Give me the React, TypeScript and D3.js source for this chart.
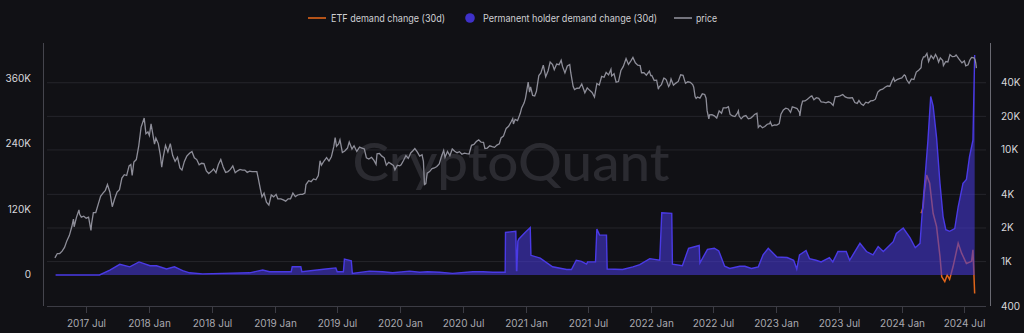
import React from "react";
import * as d3 from "d3";

const W = 1024;
const H = 333;

const xTickDates = [
  "2017-07-01","2018-01-01","2018-07-01","2019-01-01","2019-07-01","2020-01-01","2020-07-01",
  "2021-01-01","2021-07-01","2022-01-01","2022-07-01","2023-01-01","2023-07-01","2024-01-01","2024-07-01",
];
const leftTicks = [0, 120000, 240000, 360000];
const rightTicks = [400, 1000, 2000, 4000, 10000, 20000, 40000];

const priceData: [string, number][] = [
  ["2017-04-01",1080],["2017-04-08",1180],["2017-04-15",1180],["2017-04-22",1240],["2017-04-29",1340],
  ["2017-05-06",1540],["2017-05-13",1710],["2017-05-20",2040],["2017-05-25",2400],["2017-05-27",2050],
  ["2017-06-03",2500],["2017-06-10",2900],["2017-06-12",2650],["2017-06-17",2500],["2017-06-24",2550],
  ["2017-07-01",2450],["2017-07-08",2500],["2017-07-15",1900],["2017-07-17",2200],["2017-07-22",2750],
  ["2017-07-29",2750],["2017-08-05",3250],["2017-08-12",3850],["2017-08-19",4100],["2017-08-26",4350],
  ["2017-09-01",4900],["2017-09-08",4200],["2017-09-15",3100],["2017-09-22",3650],["2017-09-29",4200],
  ["2017-10-06",4400],["2017-10-13",5600],["2017-10-20",6000],["2017-10-27",5900],["2017-11-03",7200],
  ["2017-11-08",7400],["2017-11-12",5900],["2017-11-17",7800],["2017-11-24",8200],["2017-12-01",10800],
  ["2017-12-08",16000],["2017-12-17",19300],["2017-12-22",14000],["2017-12-28",14500],
  ["2018-01-01",13500],["2018-01-06",17100],["2018-01-10",14500],["2018-01-16",11300],["2018-01-20",12800],
  ["2018-01-27",11400],["2018-02-02",9000],["2018-02-06",7000],["2018-02-10",8500],["2018-02-17",11000],
  ["2018-02-24",9600],["2018-03-03",11400],["2018-03-10",8900],["2018-03-17",7900],["2018-03-24",8600],
  ["2018-03-31",6900],["2018-04-06",6600],["2018-04-13",7900],["2018-04-20",8800],["2018-04-28",9350],
  ["2018-05-05",9700],["2018-05-12",8500],["2018-05-19",8200],["2018-05-26",7350],["2018-06-02",7600],
  ["2018-06-09",7550],["2018-06-16",6500],["2018-06-23",6150],["2018-06-30",6400],["2018-07-07",6750],
  ["2018-07-14",6250],["2018-07-21",7400],["2018-07-28",8200],["2018-08-04",7050],["2018-08-11",6300],
  ["2018-08-18",6400],["2018-08-25",6700],["2018-09-01",7200],["2018-09-08",6250],["2018-09-15",6500],
  ["2018-09-22",6700],["2018-09-29",6600],["2018-10-06",6600],["2018-10-13",6300],["2018-10-20",6450],
  ["2018-10-27",6400],["2018-11-03",6400],["2018-11-10",6400],["2018-11-14",5600],["2018-11-20",4500],
  ["2018-11-25",3800],["2018-12-01",4100],["2018-12-08",3400],["2018-12-15",3200],["2018-12-22",3950],
  ["2018-12-29",3800],
  ["2019-01-05",4000],["2019-01-10",3650],["2019-01-19",3650],["2019-01-26",3570],["2019-02-02",3480],
  ["2019-02-09",3650],["2019-02-16",3650],["2019-02-23",4100],["2019-03-02",3820],["2019-03-09",3950],
  ["2019-03-16",4000],["2019-03-23",4000],["2019-03-30",4100],["2019-04-02",4900],["2019-04-10",5300],
  ["2019-04-17",5200],["2019-04-24",5500],["2019-05-01",5400],["2019-05-08",5900],["2019-05-13",8000],
  ["2019-05-17",7300],["2019-05-25",8000],["2019-06-01",8550],["2019-06-08",7950],["2019-06-15",8700],
  ["2019-06-22",10700],["2019-06-26",12900],["2019-06-30",10800],["2019-07-06",11300],["2019-07-10",12300],
  ["2019-07-17",9500],["2019-07-24",9800],["2019-08-01",10400],["2019-08-06",11800],["2019-08-14",10200],
  ["2019-08-20",10900],["2019-08-28",9700],["2019-09-05",10600],["2019-09-12",10400],["2019-09-19",10200],
  ["2019-09-25",8500],["2019-10-02",8300],["2019-10-10",8600],["2019-10-17",8050],["2019-10-23",7450],
  ["2019-10-26",9250],["2019-11-02",9300],["2019-11-09",8800],["2019-11-16",8500],["2019-11-22",7300],
  ["2019-11-29",7750],["2019-12-06",7500],["2019-12-13",7250],["2019-12-17",6650],["2019-12-24",7300],
  ["2019-12-31",7200],
  ["2020-01-04",7350],["2020-01-11",8050],["2020-01-18",8900],["2020-01-25",8400],["2020-02-01",9400],
  ["2020-02-08",9900],["2020-02-13",10300],["2020-02-20",9600],["2020-02-27",8800],["2020-03-05",9050],
  ["2020-03-09",7900],["2020-03-12",4900],["2020-03-16",5000],["2020-03-20",6200],["2020-03-27",6400],
  ["2020-04-03",6800],["2020-04-10",6900],["2020-04-17",7100],["2020-04-24",7500],["2020-04-30",8650],
  ["2020-05-07",9900],["2020-05-11",8600],["2020-05-18",9700],["2020-05-25",8900],["2020-06-01",10200],
  ["2020-06-08",9750],["2020-06-15",9450],["2020-06-22",9650],["2020-06-29",9150],["2020-07-06",9350],
  ["2020-07-13",9250],["2020-07-20",9200],["2020-07-27",11000],["2020-08-03",11200],["2020-08-10",11900],
  ["2020-08-17",12300],["2020-08-24",11750],["2020-08-31",11700],["2020-09-04",10300],["2020-09-11",10400],
  ["2020-09-18",10900],["2020-09-25",10700],["2020-10-02",10550],["2020-10-09",11050],["2020-10-16",11350],
  ["2020-10-21",12800],["2020-10-28",13300],["2020-11-05",15600],["2020-11-12",16300],["2020-11-19",17800],
  ["2020-11-24",19100],["2020-11-26",17100],["2020-12-01",18800],["2020-12-08",18300],["2020-12-16",21300],
  ["2020-12-20",23800],["2020-12-27",26300],["2020-12-31",29000],
  ["2021-01-03",32800],["2021-01-08",40600],["2021-01-12",33000],["2021-01-15",36800],["2021-01-21",30800],
  ["2021-01-27",30400],["2021-02-01",33500],["2021-02-08",46400],["2021-02-14",48900],["2021-02-21",57500],
  ["2021-02-28",45200],["2021-03-07",51200],["2021-03-13",61200],["2021-03-20",58300],["2021-03-25",52300],
  ["2021-04-01",58800],["2021-04-08",58000],["2021-04-14",63500],["2021-04-18",56000],["2021-04-25",49000],
  ["2021-05-02",56600],["2021-05-09",58200],["2021-05-12",49200],["2021-05-19",37000],["2021-05-23",34700],
  ["2021-05-30",35700],["2021-06-06",35800],["2021-06-13",39000],["2021-06-22",32500],["2021-06-29",36000],
  ["2021-07-06",34200],["2021-07-13",32700],["2021-07-20",29800],["2021-07-27",39400],["2021-08-03",38200],
  ["2021-08-10",45600],["2021-08-17",44800],["2021-08-23",49500],["2021-08-30",47000],["2021-09-06",52700],
  ["2021-09-08",46000],["2021-09-15",48100],["2021-09-21",40500],["2021-09-28",41000],["2021-10-05",51500],
  ["2021-10-12",56000],["2021-10-20",65900],["2021-10-27",58400],["2021-11-03",62900],["2021-11-09",67500],
  ["2021-11-16",60300],["2021-11-23",57500],["2021-11-30",57000],["2021-12-04",49200],["2021-12-11",49300],
  ["2021-12-18",46700],["2021-12-27",50700],["2021-12-31",46300],
  ["2022-01-03",46400],["2022-01-10",41900],["2022-01-17",42200],["2022-01-22",35000],["2022-01-24",36600],
  ["2022-01-31",38500],["2022-02-07",44000],["2022-02-10",43600],["2022-02-14",42500],["2022-02-21",37000],
  ["2022-02-24",38300],["2022-02-28",43200],["2022-03-07",38000],["2022-03-14",39700],["2022-03-21",41100],
  ["2022-03-28",47100],["2022-04-04",46600],["2022-04-11",39500],["2022-04-18",40800],["2022-04-25",40400],
  ["2022-05-02",38500],["2022-05-05",36500],["2022-05-09",30100],["2022-05-12",28900],["2022-05-16",29800],
  ["2022-05-23",29100],["2022-05-30",31800],["2022-06-06",31400],["2022-06-10",29100],["2022-06-13",22500],
  ["2022-06-18",19000],["2022-06-20",20600],["2022-06-27",20700],["2022-07-04",20200],["2022-07-11",19300],
  ["2022-07-18",22400],["2022-07-25",21300],["2022-07-30",23800],["2022-08-08",23800],["2022-08-14",24400],
  ["2022-08-19",20800],["2022-08-26",20200],["2022-09-02",19900],["2022-09-09",21400],["2022-09-12",22400],
  ["2022-09-14",20200],["2022-09-20",19000],["2022-09-27",20000],["2022-10-04",20300],["2022-10-11",19000],
  ["2022-10-18",19300],["2022-10-25",20100],["2022-10-29",20800],["2022-11-05",21300],["2022-11-09",15900],
  ["2022-11-14",16600],["2022-11-21",15800],["2022-11-28",16200],["2022-12-05",17000],["2022-12-12",17200],
  ["2022-12-14",17800],["2022-12-19",16400],["2022-12-26",16800],
  ["2023-01-02",16700],["2023-01-09",17200],["2023-01-14",20900],["2023-01-21",22800],["2023-01-28",23700],
  ["2023-02-04",23300],["2023-02-11",21700],["2023-02-16",24300],["2023-02-23",23900],["2023-03-02",23500],
  ["2023-03-09",21700],["2023-03-10",20200],["2023-03-14",24700],["2023-03-18",27400],["2023-03-25",27500],
  ["2023-04-01",28500],["2023-04-11",30200],["2023-04-14",30500],["2023-04-20",28200],["2023-04-27",29400],
  ["2023-05-04",29000],["2023-05-11",27000],["2023-05-18",26800],["2023-05-25",26400],["2023-06-01",27000],
  ["2023-06-08",26500],["2023-06-15",25100],["2023-06-21",30000],["2023-06-28",30100],["2023-07-05",30500],
  ["2023-07-13",31400],["2023-07-20",29900],["2023-07-27",29300],["2023-08-03",29200],["2023-08-10",29400],
  ["2023-08-17",26600],["2023-08-24",26100],["2023-08-29",27700],["2023-09-05",25800],["2023-09-11",25100],
  ["2023-09-18",26800],["2023-09-25",26300],["2023-10-02",27500],["2023-10-09",27600],["2023-10-16",28500],
  ["2023-10-23",33000],["2023-10-30",34500],["2023-11-06",35000],["2023-11-13",36500],["2023-11-20",37400],
  ["2023-11-27",37200],["2023-12-04",41900],["2023-12-08",44200],["2023-12-11",41200],["2023-12-18",42600],
  ["2023-12-25",43600],
  ["2024-01-01",44200],["2024-01-08",47000],["2024-01-11",46300],["2024-01-15",42500],["2024-01-22",39500],
  ["2024-01-29",43300],["2024-02-05",42700],["2024-02-12",49900],["2024-02-19",51800],["2024-02-26",54500],
  ["2024-02-28",62500],["2024-03-04",68300],["2024-03-08",68300],["2024-03-14",73100],["2024-03-19",62000],
  ["2024-03-26",70000],["2024-04-02",65600],["2024-04-08",71600],["2024-04-13",67000],["2024-04-17",61300],
  ["2024-04-22",66800],["2024-04-29",63100],["2024-05-01",57000],["2024-05-08",62000],["2024-05-14",61500],
  ["2024-05-20",71400],["2024-05-27",68500],["2024-06-03",69000],["2024-06-07",71000],["2024-06-14",66000],
  ["2024-06-24",60300],["2024-07-01",62700],["2024-07-05",56600],["2024-07-12",57900],["2024-07-17",64000],
  ["2024-07-22",67500],["2024-07-29",66800],["2024-08-01",64600],["2024-08-03",60700],["2024-08-05",54000],
];

const permanentData: [string, number][] = [
  ["2017-04-03",0],["2017-08-09",0],["2017-09-08",9000],["2017-10-07",19600],["2017-11-05",15000],
  ["2017-12-02",24000],["2018-01-03",17000],["2018-01-22",17000],["2018-02-20",11000],["2018-03-15",15000],
  ["2018-04-08",8000],["2018-04-28",4000],["2018-06-05",2000],["2018-08-02",3000],["2018-10-20",4000],
  ["2018-11-27",9000],["2018-12-17",6000],["2019-01-25",6000],["2019-02-18",6000],["2019-02-21",15000],
  ["2019-03-18",15000],["2019-03-21",6000],["2019-05-30",11000],["2019-06-28",13000],["2019-07-02",6000],
  ["2019-07-20",6000],["2019-07-23",29000],["2019-08-12",26000],["2019-08-15",3000],["2019-10-04",7000],
  ["2019-11-11",6000],["2019-12-10",4000],["2020-01-29",7000],["2020-02-27",5000],["2020-03-21",6000],
  ["2020-04-25",5000],["2020-06-02",3000],["2020-07-31",6000],["2020-08-29",6000],["2020-09-27",5000],
  ["2020-11-02",5000],["2020-11-03",78000],["2020-12-03",80000],["2020-12-05",8000],["2020-12-06",8000],
  ["2020-12-09",62000],["2020-12-12",66000],["2020-12-30",78000],["2021-01-14",87000],["2021-01-16",36000],
  ["2021-02-12",31000],["2021-03-20",15000],["2021-04-30",10000],["2021-05-14",10000],["2021-05-28",27000],
  ["2021-06-12",25000],["2021-06-27",20000],["2021-06-30",24000],["2021-07-23",24000],["2021-07-27",84000],
  ["2021-08-04",73000],["2021-08-24",73000],["2021-08-26",11000],["2021-10-10",10000],["2021-11-09",15000],
  ["2021-11-29",19000],["2021-12-28",30000],["2022-01-26",27000],["2022-02-01",114000],["2022-03-02",113000],
  ["2022-03-04",20000],["2022-04-02",17000],["2022-04-20",49000],["2022-05-21",54000],["2022-05-23",22000],
  ["2022-06-14",47000],["2022-07-04",49000],["2022-07-17",44000],["2022-08-03",16000],["2022-08-18",12000],
  ["2022-09-16",16000],["2022-10-01",16000],["2022-10-20",12000],["2022-11-09",15000],["2022-11-23",37000],
  ["2022-12-08",49000],["2023-01-02",33000],["2023-02-01",32000],["2023-02-20",27000],["2023-03-01",11000],
  ["2023-03-09",37000],["2023-03-28",45000],["2023-04-07",30000],["2023-04-26",27000],["2023-05-11",24000],
  ["2023-06-04",32000],["2023-06-14",24000],["2023-06-29",43000],["2023-07-23",43000],["2023-08-02",27000],
  ["2023-09-01",58000],["2023-09-20",43000],["2023-10-09",37000],["2023-10-24",52000],["2023-11-08",43000],
  ["2023-12-07",61000],["2023-12-16",76000],["2024-01-05",86000],["2024-01-25",68000],["2024-02-09",50000],
  ["2024-02-23",58000],["2024-02-28",104000],["2024-03-08",174000],["2024-03-17",247000],["2024-03-25",327000],
  ["2024-04-01",310000],["2024-04-11",252000],["2024-04-21",168000],["2024-04-30",107000],["2024-05-08",83000],
  ["2024-05-19",80000],["2024-06-03",85000],["2024-06-13",125000],["2024-06-27",168000],["2024-07-07",175000],
  ["2024-07-16",217000],["2024-07-26",247000],["2024-07-31",403000],
];

const etfData: [string, number][] = [
  ["2024-02-26",113000],["2024-03-03",124000],["2024-03-06",150000],["2024-03-13",183000],["2024-03-22",168000],
  ["2024-04-01",113000],["2024-04-11",89000],["2024-04-21",34000],["2024-04-26",-3000],["2024-05-05",-12000],
  ["2024-05-12",0],["2024-05-19",-8000],["2024-05-29",15000],["2024-06-13",58000],["2024-06-23",40000],
  ["2024-07-07",21000],["2024-07-22",25000],["2024-07-26",46000],["2024-07-31",-34000],
];

const legendItems = [
  { label: "ETF demand change (30d)", kind: "line", color: "#e0651a" },
  { label: "Permanent holder demand change (30d)", kind: "dot", color: "#3f31c9" },
  { label: "price", kind: "line", color: "#8e8e99" },
];

const parse = (s: string) => new Date(s + "T00:00:00Z");
const fmtTick = (d: Date) => `${d.getUTCFullYear()} ${d3.utcFormat("%b")(d)}`;
const fmtLeft = (v: number) => (v === 0 ? "0" : `${v / 1000}K`);
const fmtRight = (v: number) => (v >= 1000 ? `${v / 1000}K` : `${v}`);

const BG = "#111115";
const FONT = "Inter, 'Noto Sans', sans-serif";

// legend layout (marker x, text x, text width)
const legendLayout = [
  { mx: 308, tx: 331, tw: 114 },
  { mx: 470, tx: 483, tw: 174 },
  { mx: 674, tx: 696, tw: 21 },
];

export default function App() {
  const left = 47, right = 986, top = 43, bottom = 306;
  const x = d3.scaleUtc().domain([parse("2017-03-09"), parse("2024-09-02")]).range([left, right]);
  const yL = d3.scaleLinear().domain([-56800, 425000]).range([bottom, top]);
  const yR = d3.scaleLog().domain([400, 90800]).range([bottom, top]);

  const priceLine = d3.line<[string, number]>().x(d => x(parse(d[0]))).y(d => yR(d[1]))(priceData) || "";
  const permArea = d3.area<[string, number]>().x(d => x(parse(d[0]))).y0(yL(0)).y1(d => yL(d[1]))(permanentData) || "";
  const permLine = d3.line<[string, number]>().x(d => x(parse(d[0]))).y(d => yL(d[1]))(permanentData) || "";
  const etfLine = d3.line<[string, number]>().x(d => x(parse(d[0]))).y(d => yL(d[1]))(etfData) || "";

  return (
    <div style={{ position: "fixed", left: 0, top: 0, width: W, height: H, background: BG }}>
      <svg width={W} height={H} style={{ display: "block", fontFamily: FONT }}>
        <rect width={W} height={H} fill={BG} />
        {rightTicks.slice(1).map(t => (
          <line key={t} x1={left} x2={right} y1={yR(t)} y2={yR(t)} stroke="#25252b" strokeWidth={1} />
        ))}
        <text x={511} y={181} textAnchor="middle" fontSize={52} fontWeight={500} fill="#2b2b31"
          textLength={317} lengthAdjust="spacingAndGlyphs" fontFamily="Lato, 'Noto Sans', sans-serif">CryptoQuant</text>
        <line x1={43.5} x2={43.5} y1={top} y2={bottom} stroke="#45454d" />
        <line x1={990.5} x2={990.5} y1={top} y2={bottom} stroke="#6a6a72" />
        <line x1={left} x2={right} y1={bottom + 0.5} y2={bottom + 0.5} stroke="#3c3c44" />
        {xTickDates.map(s => {
          const d = parse(s);
          const xp = Math.round(x(d)) + 0.5;
          return (
            <g key={s}>
              <line x1={xp} x2={xp} y1={bottom + 1} y2={bottom + 7} stroke="#3c3c44" />
              <text x={xp} y={327} textAnchor="middle" fontSize={10} fill="#a9a9b0">{fmtTick(d)}</text>
            </g>
          );
        })}
        {leftTicks.map(t => (
          <text key={t} x={31} y={yL(t) + 3.5} textAnchor="end" fontSize={10} fill="#d8d8dc">{fmtLeft(t)}</text>
        ))}
        {rightTicks.map(t => (
          <text key={t} x={1001} y={yR(t) + 3.5} textAnchor="start" fontSize={10} fill="#d8d8dc">{fmtRight(t)}</text>
        ))}
        <path d={etfLine} fill="none" stroke="#e0651a" strokeWidth={1.5} />
        <path d={permArea} fill="#4537cf" fillOpacity={0.6} />
        <path d={permLine} fill="none" stroke="#4a3ae6" strokeWidth={1.4} />
        <path d={priceLine} fill="none" stroke="#8e8e99" strokeWidth={1.3} />
        <g fontSize={10.5} fill="#d0d0d4">
          {legendItems.map((it, i) => {
            const L = legendLayout[i];
            return (
              <g key={it.label}>
                {it.kind === "line"
                  ? <line x1={L.mx} x2={L.mx + 18} y1={18} y2={18} stroke={it.color} strokeWidth={1.6} />
                  : <circle cx={L.mx} cy={18} r={4.8} fill={it.color} />}
                <text x={L.tx} y={21.8} textLength={L.tw} lengthAdjust="spacingAndGlyphs">{it.label}</text>
              </g>
            );
          })}
        </g>
      </svg>
    </div>
  );
}
